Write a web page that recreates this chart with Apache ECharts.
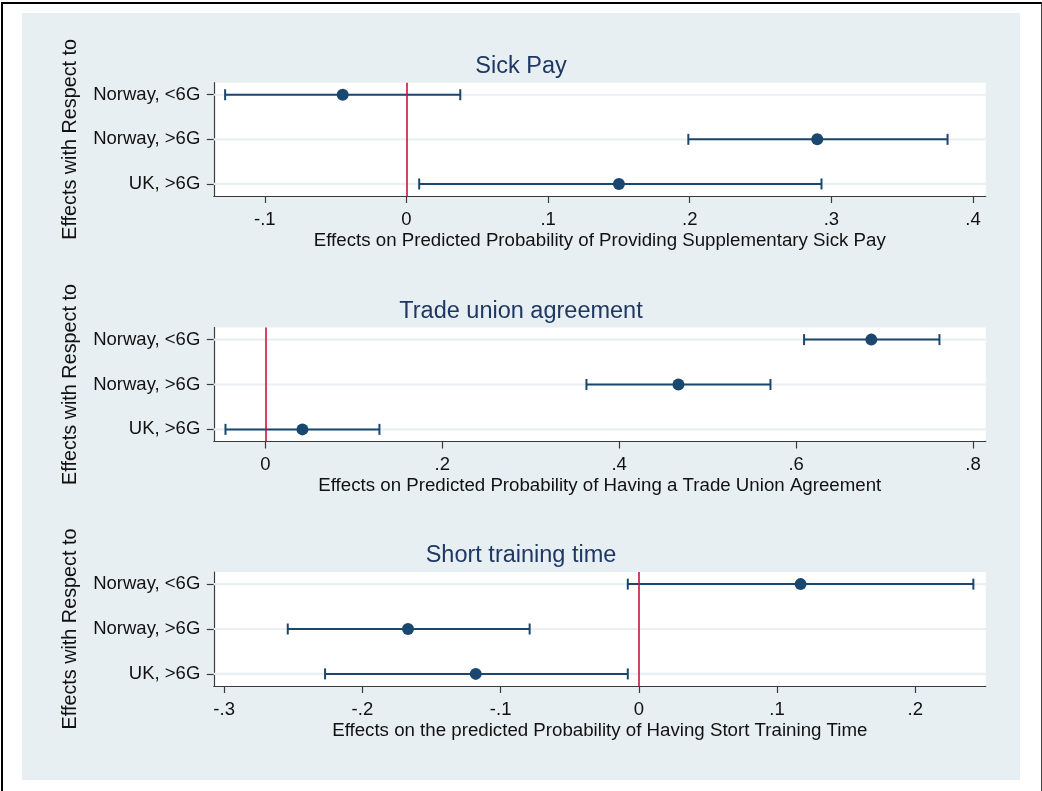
<!DOCTYPE html>
<html>
<head>
<meta charset="utf-8">
<script src="https://cdn.jsdelivr.net/npm/echarts@6/dist/echarts.min.js"></script>
<style>
  html, body { margin: 0; padding: 0; background: #ffffff; }
  #frame { position: absolute; left: 1px; top: 2px; width: 1038px; height: 800px;
           border-left: 2px solid #000; border-top: 2px solid #000; border-right: 1.5px solid #444; }
  #bg { position: absolute; left: 22px; top: 13px; width: 998px; height: 767px; background: #e8eff2; }
  #chart { position: absolute; left: 0; top: 0; width: 1042px; height: 791px; }
</style>
</head>
<body>
<div id="frame"></div>
<div id="bg"></div>
<div id="chart"></div>
<script>
// ---------- data ----------
const categories = ["Norway, <6G", "Norway, >6G", "UK, >6G"];

const panelTitles = ["Sick Pay", "Trade union agreement", "Short training time"];
const xAxisTitles = [
  "Effects on Predicted Probability of Providing Supplementary Sick Pay",
  "Effects on Predicted Probability of Having a Trade Union Agreement",
  "Effects on the predicted Probability of Having Stort Training Time"
];
const yAxisTitle = "Effects with Respect to";

const sickPayEst  = [-0.045, 0.290, 0.150];
const sickPayLow  = [-0.128, 0.199, 0.009];
const sickPayHigh = [ 0.038, 0.382, 0.293];

const unionEst  = [0.685, 0.467,  0.042];
const unionLow  = [0.609, 0.363, -0.045];
const unionHigh = [0.762, 0.571,  0.129];

const trainEst  = [ 0.117, -0.167, -0.118];
const trainLow  = [-0.008, -0.254, -0.227];
const trainHigh = [ 0.242, -0.079, -0.008];

const sickPayTicks = [-0.1, 0, 0.1, 0.2, 0.3, 0.4];
const sickPayTickLabels = ["-.1", "0", ".1", ".2", ".3", ".4"];
const unionTicks = [0, 0.2, 0.4, 0.6, 0.8];
const unionTickLabels = ["0", ".2", ".4", ".6", ".8"];
const trainTicks = [-0.3, -0.2, -0.1, 0, 0.1, 0.2];
const trainTickLabels = ["-.3", "-.2", "-.1", "0", ".1", ".2"];

// ---------- layout / style ----------
const FONT = "Liberation Sans, Arial, sans-serif";
const NAVY = "#1a476f";
const RED = "#c8143c";
const panels = [
  { est: sickPayEst, low: sickPayLow, high: sickPayHigh, ticks: sickPayTicks, tickLabels: sickPayTickLabels,
    xmin: -0.136, xmax: 0.409, top: 82.7, height: 113.3, titleTop: 50 },
  { est: unionEst, low: unionLow, high: unionHigh, ticks: unionTicks, tickLabels: unionTickLabels,
    xmin: -0.0582, xmax: 0.8144, top: 327.5, height: 114, titleTop: 295 },
  { est: trainEst, low: trainLow, high: trainHigh, ticks: trainTicks, tickLabels: trainTickLabels,
    xmin: -0.3075, xmax: 0.251, top: 572, height: 114, titleTop: 539 }
];

const chart = echarts.init(document.getElementById('chart'), null, { renderer: 'canvas' });

const grids = [], xAxes = [], yAxes = [], series = [], titles = [];

panels.forEach((p, k) => {
  titles.push({
    text: panelTitles[k], left: 'center', top: p.titleTop,
    textStyle: { fontFamily: FONT, fontSize: 23.5, fontWeight: 'normal', color: '#1e3763' }
  });
  grids.push({
    left: 213.8, width: 772, top: p.top, height: p.height,
    show: true, backgroundColor: '#ffffff', borderWidth: 0
  });
  xAxes.push({
    type: 'value', gridIndex: k, min: p.xmin, max: p.xmax,
    axisLine: { show: true, onZero: false, lineStyle: { color: '#3a3a3a', width: 1.2 } },
    axisTick: { show: true, length: 7, customValues: p.ticks, lineStyle: { color: '#3a3a3a', width: 1.2 } },
    axisLabel: {
      customValues: p.ticks, margin: 14,
      fontFamily: FONT, fontSize: 18.5, color: '#111',
      formatter: (v) => { const i = p.ticks.findIndex(t => Math.abs(t - v) < 1e-9); return i >= 0 ? p.tickLabels[i] : ''; }
    },
    splitLine: { show: false },
    name: xAxisTitles[k], nameLocation: 'middle', nameGap: 35,
    nameTextStyle: { fontFamily: FONT, fontSize: 18.7, color: '#111' }
  });
  yAxes.push({
    type: 'value', gridIndex: k, min: 0.73, max: 3.27, inverse: true,
    axisLine: { show: true, onZero: false, lineStyle: { color: '#3a3a3a', width: 1.2 } },
    axisTick: { show: true, length: 7, customValues: [1, 2, 3], lineStyle: { color: '#3a3a3a', width: 1.2 } },
    axisLabel: {
      customValues: [1, 2, 3], margin: 13.5,
      fontFamily: FONT, fontSize: 18.5, color: '#111',
      formatter: (v) => categories[Math.round(v) - 1] || ''
    },
    splitLine: { show: false },
    name: yAxisTitle, nameLocation: 'middle', nameGap: 133, nameRotate: 90,
    nameTextStyle: { fontFamily: FONT, fontSize: 19.8, color: '#111' }
  });

  const barData = categories.map((c, i) => [p.low[i], p.high[i], i + 1]);

  // light horizontal gridlines at each category
  series.push({
    type: 'custom', xAxisIndex: k, yAxisIndex: k, z: 1, silent: true,
    encode: { x: [0, 1], y: 2 },
    data: barData,
    renderItem: (params, api) => {
      const y = api.coord([0, api.value(2)])[1];
      const cs = params.coordSys;
      return { type: 'line', shape: { x1: cs.x, y1: y, x2: cs.x + cs.width, y2: y },
               style: { stroke: '#e9f0f2', lineWidth: 2.2 } };
    }
  });
  // confidence intervals
  series.push({
    type: 'custom', xAxisIndex: k, yAxisIndex: k, z: 2, silent: true,
    encode: { x: [0, 1], y: 2 },
    data: barData,
    renderItem: (params, api) => {
      const a = api.coord([api.value(0), api.value(2)]);
      const b = api.coord([api.value(1), api.value(2)]);
      const h = 5.5;
      const st = { stroke: NAVY, lineWidth: 2 };
      return { type: 'group', children: [
        { type: 'line', shape: { x1: a[0], y1: a[1], x2: b[0], y2: b[1] }, style: st },
        { type: 'line', shape: { x1: a[0], y1: a[1] - h, x2: a[0], y2: a[1] + h }, style: st },
        { type: 'line', shape: { x1: b[0], y1: b[1] - h, x2: b[0], y2: b[1] + h }, style: st }
      ]};
    }
  });
  // zero reference line
  series.push({
    type: 'line', xAxisIndex: k, yAxisIndex: k, z: 3, data: [], silent: true,
    markLine: {
      silent: true, symbol: ['none', 'none'], animation: false,
      label: { show: false },
      lineStyle: { color: RED, width: 1.6, type: 'solid' },
      data: [{ xAxis: 0 }]
    }
  });
  // point estimates
  series.push({
    type: 'scatter', xAxisIndex: k, yAxisIndex: k, z: 4, silent: true,
    symbol: 'circle', symbolSize: 12,
    itemStyle: { color: NAVY, opacity: 1 },
    data: p.est.map((v, i) => [v, i + 1])
  });
});

chart.setOption({
  backgroundColor: 'transparent',
  animation: false,
  title: titles,
  grid: grids,
  xAxis: xAxes,
  yAxis: yAxes,
  series: series
});
</script>
</body>
</html>
